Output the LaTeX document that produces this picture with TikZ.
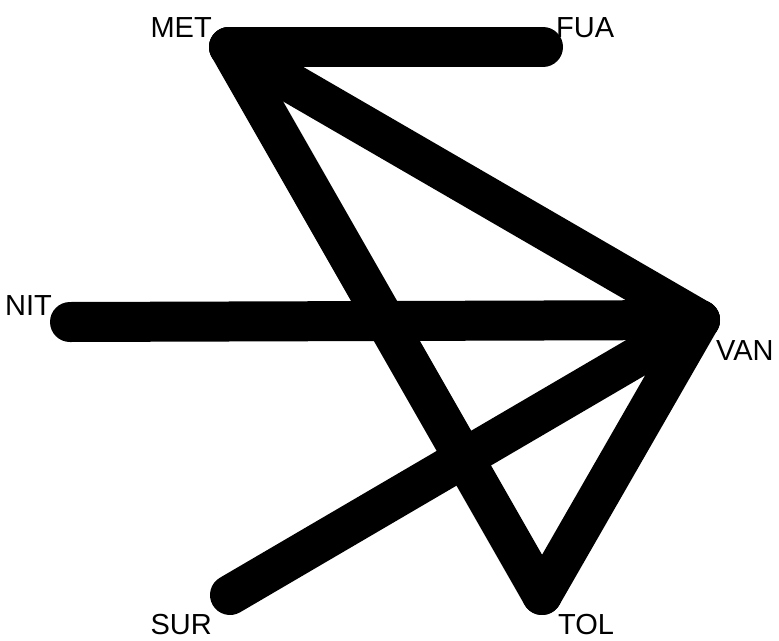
\documentclass[tikz,border=0pt]{standalone}
\usepackage{fontspec}
\setmainfont{Liberation Sans}
\begin{document}
\begin{tikzpicture}[x=1pt,y=-1pt,
  edge/.style={line width=40pt, line cap=round, draw=black},
  lab/.style={font=\fontsize{29}{30}\selectfont, inner sep=0pt, text=black}]
\useasboundingbox (0,0) rectangle (779,640);
\fill[white] (0,0) rectangle (779,640);
\coordinate (MET) at (229,47);
\coordinate (FUA) at (543,47);
\coordinate (NIT) at (70,322);
\coordinate (VAN) at (700,320);
\coordinate (SUR) at (230,595);
\coordinate (TOL) at (542,595);
\draw[edge] (MET) -- (FUA);
\draw[edge] (MET) -- (VAN);
\draw[edge] (MET) -- (TOL);
\draw[edge] (NIT) -- (VAN);
\draw[edge] (SUR) -- (VAN);
\draw[edge] (TOL) -- (VAN);
\node[lab, anchor=base east] (lMET) at (212,37) {MET};
\node[lab, anchor=base west] (lFUA) at (556,37) {FUA};
\node[lab, anchor=base east] (lNIT) at (52,315) {NIT};
\node[lab, anchor=base west] (lVAN) at (716,360) {VAN};
\node[lab, anchor=base east] (lSUR) at (212,634) {SUR};
\node[lab, anchor=base west] (lTOL) at (558,634) {TOL};
\end{tikzpicture}
\end{document}
